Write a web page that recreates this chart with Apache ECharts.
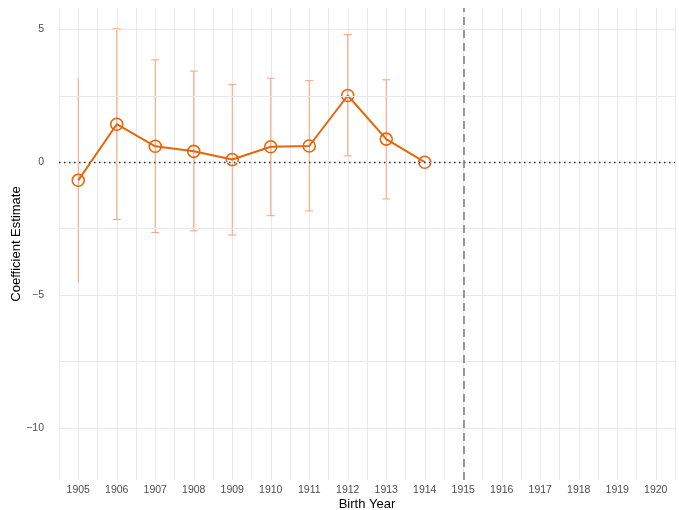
<!DOCTYPE html>
<html>
<head>
<meta charset="utf-8">
<script src="https://cdn.jsdelivr.net/npm/echarts@6/dist/echarts.min.js"></script>
<style>
  html, body { margin: 0; padding: 0; background: #fff; }
  #chart { width: 679px; height: 510px; }
</style>
</head>
<body>
<div id="chart"></div>
<script>
// event-study coefficients by birth year (1914 is the reference year)
const years = [1905, 1906, 1907, 1908, 1909, 1910, 1911, 1912, 1913, 1914];
const estimate = [-0.68, 1.43, 0.60, 0.41, 0.10, 0.58, 0.61, 2.51, 0.87, 0];
const ciLower = [-4.52, -2.15, -2.64, -2.58, -2.74, -2.01, -1.83, 0.24, -1.38, null];
const ciUpper = [3.16, 5.02, 3.85, 3.43, 2.93, 3.16, 3.07, 4.80, 3.10, null];
const noCapYears = [1905];
const cutoffYear = 1915;
const yGridValues = [-10, -7.5, -5, -2.5, 0, 2.5, 5];
const yLabelValues = [-10, -5, 0, 5];

const chart = echarts.init(document.getElementById('chart'));

const lineColor = '#E8650A';
const barColor = '#FFA07A';
const gridColor = '#E8E8E8';
const fontFamily = 'Liberation Sans, Arial, sans-serif';

const barData = [];
years.forEach((y, i) => {
  if (ciLower[i] != null) barData.push([y, ciLower[i], ciUpper[i], noCapYears.includes(y) ? 0 : 1]);
});

const option = {
  animation: false,
  backgroundColor: '#fff',
  grid: { left: 59, right: 4, top: 8, bottom: 30, outerBoundsMode: 'none', containLabel: false },
  xAxis: {
    type: 'value',
    min: 1904.5,
    max: 1920.5,
    interval: 0.5,
    name: 'Birth Year',
    nameLocation: 'middle',
    nameGap: 18,
    nameMoveOverlap: false,
    nameTextStyle: { color: '#000', fontSize: 13, fontFamily },
    axisLine: { show: false },
    axisTick: { show: false },
    axisLabel: {
      color: '#4D4D4D',
      fontSize: 10.5,
      fontFamily,
      margin: 5,
      formatter: v => (Number.isInteger(v) ? String(v) : '')
    },
    splitLine: { show: true, lineStyle: { color: gridColor, width: 1 } }
  },
  yAxis: {
    type: 'value',
    min: -11.95,
    max: 5.8,
    name: 'Coefficient Estimate',
    nameLocation: 'middle',
    nameGap: 36,
    nameRotate: 90,
    nameMoveOverlap: false,
    nameTextStyle: { color: '#000', fontSize: 13, fontFamily },
    axisLine: { show: false },
    axisTick: { show: false },
    axisLabel: {
      customValues: yLabelValues,
      color: '#4D4D4D',
      fontSize: 10.5,
      fontFamily,
      margin: 15,
      formatter: v => (v < 0 ? '\u2212' + Math.abs(v) : String(v))
    },
    splitLine: { show: false }
  },
  series: [
    {
      // horizontal grid lines
      type: 'line',
      data: [],
      silent: true,
      z: 0,
      markLine: {
        silent: true,
        symbol: 'none',
        label: { show: false },
        lineStyle: { color: gridColor, width: 1, type: 'solid' },
        data: yGridValues.map(v => ({ yAxis: v }))
      }
    },
    {
      // reference lines
      type: 'line',
      data: [],
      silent: true,
      z: 1,
      markLine: {
        silent: true,
        symbol: 'none',
        label: { show: false },
        data: [
          { yAxis: 0, lineStyle: { color: '#333', width: 1.3, type: [1.5, 3.5] } },
          { xAxis: cutoffYear, lineStyle: { color: '#808080', width: 1.6, type: [8, 5] } }
        ]
      }
    },
    {
      type: 'custom',
      z: 2,
      data: barData,
      renderItem(params, api) {
        const x = api.value(0);
        const top = api.coord([x, api.value(2)]);
        const bot = api.coord([x, api.value(1)]);
        const style = { stroke: barColor, lineWidth: 1 };
        const children = [
          { type: 'line', shape: { x1: top[0], y1: top[1], x2: bot[0], y2: bot[1] }, style }
        ];
        if (api.value(3)) {
          const hw = 4;
          children.push(
            { type: 'line', shape: { x1: top[0] - hw, y1: top[1], x2: top[0] + hw, y2: top[1] }, style },
            { type: 'line', shape: { x1: bot[0] - hw, y1: bot[1], x2: bot[0] + hw, y2: bot[1] }, style }
          );
        }
        return { type: 'group', children };
      }
    },
    {
      type: 'line',
      z: 3,
      data: years.map((y, i) => [y, estimate[i]]),
      symbol: 'circle',
      symbolSize: 12,
      lineStyle: { color: lineColor, width: 2 },
      itemStyle: { color: 'rgba(255,255,255,0)', borderColor: lineColor, borderWidth: 1.6 }
    }
  ]
};

option && chart.setOption(option);
</script>
</body>
</html>
